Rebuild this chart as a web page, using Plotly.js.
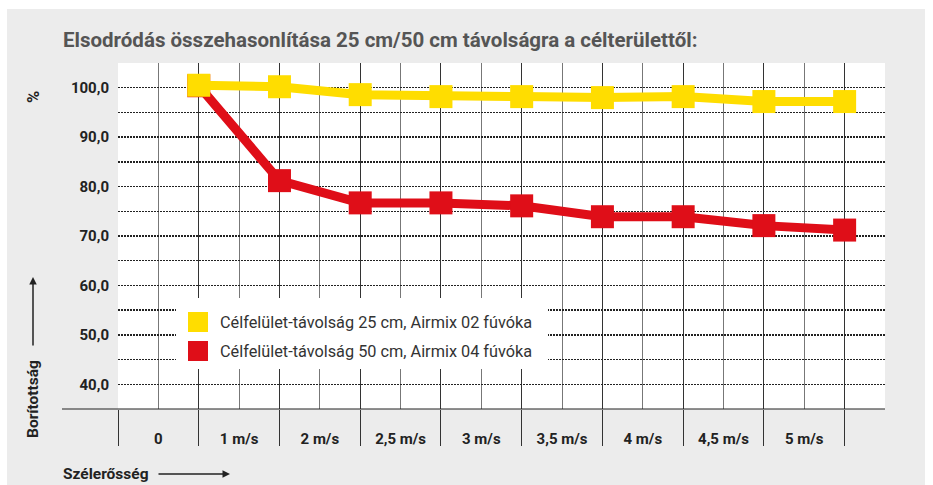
<!DOCTYPE html>
<html>
<head>
<meta charset="utf-8">
<script src="https://cdn.plot.ly/plotly-3.0.1.min.js"></script>
<style>html,body{margin:0;padding:0;background:#fff;}#chart{width:933px;height:485px;}</style>
</head>
<body>
<div id="chart"></div>
<script>
// ---- data ----
const categories = ["0", "1 m/s", "2 m/s", "2,5 m/s", "3 m/s", "3,5 m/s", "4 m/s", "4,5 m/s", "5 m/s"];
const seriesNames = ["Célfelület-távolság 25 cm, Airmix 02 fúvóka", "Célfelület-távolság 50 cm, Airmix 04 fúvóka"];
const values25 = [100.5, 100.2, 98.6, 98.2, 98.2, 98.0, 98.2, 97.2, 97.2];
const values50 = [100.4, 81.2, 76.7, 76.7, 76.1, 73.9, 73.9, 72.1, 71.2];
const yTickVals = [40, 50, 60, 70, 80, 90, 100];
const yTickText = ["40,0", "50,0", "60,0", "70,0", "80,0", "90,0", "100,0"];
const colors = ["#FFDD00", "#DF0E18"];
const titleText = "Elsodródás összehasonlítása 25 cm/50 cm távolságra a célterülettől:";
const yTitle = "Borítottság";
const xTitle = "Szélerősség";

// ---- geometry helpers (pixel -> paper) ----
const W = 933, H = 485, L = 118, R = 48, T = 63, B = 76;
const pw = W - L - R, ph = H - T - B;
const px = X => (X - L) / pw;
const py = Y => (H - B - Y) / ph;

const xIdx = categories.map((_, i) => i);
const sepVals = [-1].concat(xIdx);
const halfVals = categories.map((_, i) => i - 0.5);
const minorY = yTickVals.slice(0, -1).map(v => v + 5);

const traces = [
  {x: xIdx, y: values50, name: seriesNames[1], type: 'scatter', mode: 'lines+markers',
   line: {color: colors[1], width: 9}, marker: {symbol: 'square', size: 23, color: colors[1]},
   showlegend: false, hoverinfo: 'skip'},
  {x: xIdx, y: values25, name: seriesNames[0], type: 'scatter', mode: 'lines+markers',
   line: {color: colors[0], width: 9}, marker: {symbol: 'square', size: 23, color: colors[0]},
   showlegend: false, hoverinfo: 'skip'},
  // invisible carrier trace so the category-label axis is drawn
  {x: halfVals, y: halfVals.map(() => null), xaxis: 'x2', yaxis: 'y', type: 'scatter', mode: 'markers',
   marker: {opacity: 0}, showlegend: false, hoverinfo: 'skip'}
];

const shapes = [
  {type: 'rect', xref: 'paper', yref: 'paper', x0: px(7), x1: px(925), y0: py(9), y1: py(486),
   fillcolor: '#ececec', line: {width: 0}, layer: 'below'},
  {type: 'rect', xref: 'paper', yref: 'paper', x0: 0, x1: 1, y0: 0, y1: 1,
   fillcolor: '#ffffff', line: {width: 0}, layer: 'below'},
  {type: 'line', xref: 'paper', yref: 'paper', x0: px(62), x1: 1, y0: 0, y1: 0,
   line: {color: '#222', width: 1.2}, layer: 'above'},
  // legend box
  {type: 'rect', xref: 'paper', yref: 'paper', x0: px(176), x1: px(548), y0: py(369), y1: py(298),
   fillcolor: '#ffffff', line: {width: 0}, layer: 'above'},
  {type: 'rect', xref: 'paper', yref: 'paper', x0: px(188), x1: px(208), y0: py(332), y1: py(312),
   fillcolor: colors[0], line: {width: 0}, layer: 'above'},
  {type: 'rect', xref: 'paper', yref: 'paper', x0: px(188), x1: px(208), y0: py(361), y1: py(341),
   fillcolor: colors[1], line: {width: 0}, layer: 'above'}
];

const boldFont = {family: 'Roboto, "DejaVu Sans", sans-serif', size: 15, color: '#222', weight: 'bold'};
const axTitleFont = {family: 'Roboto, "DejaVu Sans", sans-serif', size: 15.5, color: '#222', weight: 'bold'};
const legendFont = {family: 'Roboto, sans-serif', size: 16.3, color: '#333'};
const annotations = [
  {xref: 'paper', yref: 'paper', x: px(61), y: py(40), xanchor: 'left', yanchor: 'middle',
   text: '<b>' + titleText + '</b>', showarrow: false,
   font: {family: 'Roboto, sans-serif', size: 20.5, color: '#555'}},
  {xref: 'paper', yref: 'paper', x: px(218), y: py(322), xanchor: 'left', yanchor: 'middle',
   text: seriesNames[0], showarrow: false, font: legendFont},
  {xref: 'paper', yref: 'paper', x: px(218), y: py(351), xanchor: 'left', yanchor: 'middle',
   text: seriesNames[1], showarrow: false, font: legendFont},
  {xref: 'paper', yref: 'paper', x: px(33), y: py(97), xanchor: 'center', yanchor: 'middle',
   text: '<b>%</b>', textangle: -90, showarrow: false, font: {family: 'Roboto, sans-serif', size: 16.5, color: '#222'}},
  {xref: 'paper', yref: 'paper', x: px(33), y: py(399), xanchor: 'center', yanchor: 'middle',
   text: '<b>' + yTitle + '</b>', textangle: -90, showarrow: false, font: axTitleFont},
  {xref: 'paper', yref: 'paper', x: px(61), y: py(474), xanchor: 'left', yanchor: 'middle',
   text: '<b>' + xTitle + '</b>', showarrow: false, font: axTitleFont},
  {xref: 'paper', yref: 'paper', x: px(33), y: py(277), text: '', showarrow: true,
   ax: 0, ay: 70, arrowhead: 2, arrowsize: 1, arrowwidth: 1.5, arrowcolor: '#222'},
  {xref: 'paper', yref: 'paper', x: px(230), y: py(474), text: '', showarrow: true,
   ax: -73, ay: 0, arrowhead: 2, arrowsize: 1, arrowwidth: 1.5, arrowcolor: '#222'}
];

const layout = {
  width: W, height: H,
  margin: {l: L, r: R, t: T, b: B},
  paper_bgcolor: '#ffffff', plot_bgcolor: 'rgba(0,0,0,0)',
  showlegend: false,
  xaxis: {range: [-1, 8.5], tickmode: 'array', tickvals: sepVals, showticklabels: false,
          ticks: 'outside', ticklen: 36, tickwidth: 1, tickcolor: '#333',
          showgrid: true, gridcolor: '#333', gridwidth: 1, zeroline: false, showline: false,
          minor: {tickmode: 'array', tickvals: halfVals, showgrid: true, gridcolor: '#777', gridwidth: 1, ticks: ''},
          fixedrange: true},
  xaxis2: {overlaying: 'x', anchor: 'y', side: 'bottom', range: [-1, 8.5], tickmode: 'array',
           tickvals: halfVals, ticktext: categories, ticks: 'outside', ticklen: 16,
           tickcolor: 'rgba(0,0,0,0)', showgrid: false, zeroline: false, showline: false,
           tickfont: boldFont, fixedrange: true},
  yaxis: {range: [35, 105], tickmode: 'array', tickvals: yTickVals, ticktext: yTickText,
          ticks: 'outside', ticklen: 5, tickcolor: 'rgba(0,0,0,0)', tickfont: boldFont,
          showgrid: true, gridcolor: '#222', gridwidth: 1.4, griddash: '1.5px,1.5px',
          minor: {tickmode: 'array', tickvals: minorY, showgrid: true, gridcolor: '#222', gridwidth: 1.4, griddash: '1.5px,1.5px', ticks: ''},
          zeroline: false, showline: false, fixedrange: true},
  shapes: shapes,
  annotations: annotations
};

Plotly.newPlot('chart', traces, layout, {displayModeBar: false, staticPlot: true});
</script>
</body>
</html>
